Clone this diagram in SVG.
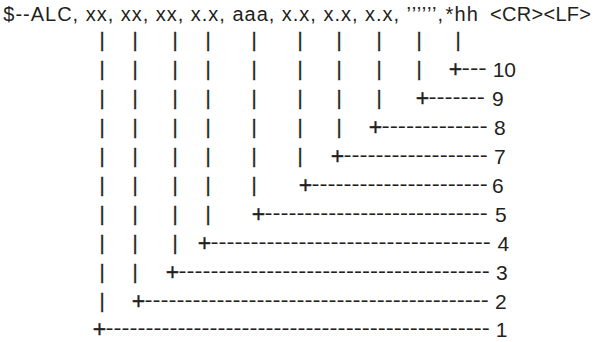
<svg xmlns="http://www.w3.org/2000/svg" width="594" height="342" viewBox="0 0 594 342">
<style>
text{font-family:"Liberation Sans",Arial,sans-serif;font-size:20px;fill:#231f20}
.p{text-anchor:middle;stroke:#231f20;stroke-width:0.3}
.pl{font-size:23px;stroke:#231f20;stroke-width:0.35}
.n{font-size:21px}
</style>
<rect width="594" height="342" fill="#fff"/>
<g id="header">
<text x="3.3" y="20.5" textLength="439.7" lengthAdjust="spacing">$--ALC, xx, xx, xx, x.x, aaa, x.x, x.x, x.x, ’’’’’’,</text>
<text x="445.5" y="20.5" font-size="20.5" letter-spacing="1.2">*hh</text>
<text x="490" y="20.5" letter-spacing="0.3">&lt;CR&gt;&lt;LF&gt;</text>
</g>
<g id="connectors">
<text class="p" x="102 135 175 208 254 300 339 379 419 458" y="47">||||||||||</text>
<text class="p" x="102 135 175 208 254 300 339 379 419" y="76">|||||||||</text>
<text class="p" x="102 135 175 208 254 300 339 379" y="105">||||||||</text>
<text class="p" x="102 135 175 208 254 300 339" y="134">|||||||</text>
<text class="p" x="102 135 175 208 254 300" y="163">||||||</text>
<text class="p" x="102 135 175 208 254" y="192">|||||</text>
<text class="p" x="102 135 175 208" y="221">||||</text>
<text class="p" x="102 135 175" y="250">|||</text>
<text class="p" x="102 135" y="279">||</text>
<text class="p" x="102" y="308">|</text>
</g>
<g id="field-10"><text class="pl" x="448.8" y="77">+</text><text x="461.5" y="74.5" textLength="25.2" lengthAdjust="spacingAndGlyphs">---</text><text class="n" x="492.7" y="76.5">10</text></g>
<g id="field-9"><text class="pl" x="415.8" y="106">+</text><text x="428.5" y="103.5" textLength="56.2" lengthAdjust="spacingAndGlyphs">-------</text><text class="n" x="492" y="105.5">9</text></g>
<g id="field-8"><text class="pl" x="368.8" y="135">+</text><text x="381.5" y="132.5" textLength="106.2" lengthAdjust="spacingAndGlyphs">-------------</text><text class="n" x="494" y="134.5">8</text></g>
<g id="field-7"><text class="pl" x="330.8" y="164">+</text><text x="343.5" y="161.5" textLength="144.2" lengthAdjust="spacingAndGlyphs">------------------</text><text class="n" x="494" y="163.5">7</text></g>
<g id="field-6"><text class="pl" x="298.8" y="193">+</text><text x="311.5" y="190.5" textLength="176.2" lengthAdjust="spacingAndGlyphs">----------------------</text><text class="n" x="492" y="192.5">6</text></g>
<g id="field-5"><text class="pl" x="251.8" y="222">+</text><text x="264.5" y="219.5" textLength="223.2" lengthAdjust="spacingAndGlyphs">----------------------------</text><text class="n" x="495" y="221.5">5</text></g>
<g id="field-4"><text class="pl" x="197.8" y="251">+</text><text x="210.5" y="248.5" textLength="280.2" lengthAdjust="spacingAndGlyphs">-----------------------------------</text><text class="n" x="497.5" y="250.5">4</text></g>
<g id="field-3"><text class="pl" x="165.8" y="280">+</text><text x="178.5" y="277.5" textLength="311.2" lengthAdjust="spacingAndGlyphs">---------------------------------------</text><text class="n" x="496" y="279.5">3</text></g>
<g id="field-2"><text class="pl" x="131.8" y="309">+</text><text x="144.5" y="306.5" textLength="344.2" lengthAdjust="spacingAndGlyphs">-------------------------------------------</text><text class="n" x="495" y="308.5">2</text></g>
<g id="field-1"><text class="pl" x="92.8" y="337">+</text><text x="105.5" y="335" textLength="384.2" lengthAdjust="spacingAndGlyphs">------------------------------------------------</text><text class="n" x="495.7" y="337">1</text></g>
</svg>
